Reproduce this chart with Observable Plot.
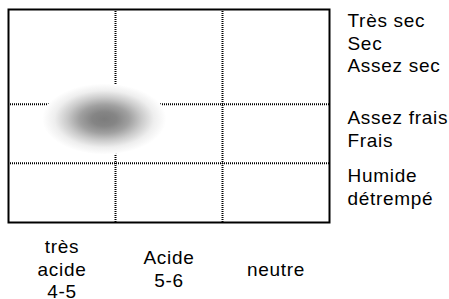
<!DOCTYPE html>
<html><head><meta charset="utf-8">
<script src="https://cdn.jsdelivr.net/npm/d3@7"></script>
<script src="https://cdn.jsdelivr.net/npm/@observablehq/plot@0.6"></script>
<style>html,body{margin:0;padding:0;background:#fff} svg{display:block}</style>
</head><body>
<div id="chart"></div>
<script>
// pH classes (columns) and moisture classes (rows)
const phLabels = ["très\nacide\n4-5", "Acide\n5-6", "neutre"];
const phCenters = [0.5, 1.5, 2.5];
const phBreaks = [1, 2];
const moistureGroups = ["Très sec\nSec\nAssez sec", "Assez frais\nFrais", "Humide\ndétrempé"];
const moistureLevels = [3.04, 1.59, 0.61];
const moistureBreaks = [1, 2];
// ecological optimum of the species (centre and spread)
const optimumPh = [0.9];
const optimumMoisture = [1.74];
const spreadPh = [0.58];
const spreadMoisture = [0.6];

const blob = optimumPh.map((p, i) => ({
  x1: p - spreadPh[i], x2: p + spreadPh[i],
  y1: optimumMoisture[i] - spreadMoisture[i], y2: optimumMoisture[i] + spreadMoisture[i]
}));

const font = "Liberation Sans, Arial, sans-serif";
const svg = Plot.plot({
  width: 449,
  height: 299,
  marginLeft: 8,
  marginRight: 120,
  marginTop: 9,
  marginBottom: 77,
  x: {domain: [0, 3], axis: null},
  y: {domain: [0, 3.6], axis: null},
  style: {background: "#fff", letterSpacing: "0.7px"},
  marks: [
    Plot.ruleX(phBreaks, {stroke: "black", strokeWidth: 2, strokeDasharray: "1,1"}),
    Plot.ruleY(moistureBreaks, {stroke: "black", strokeWidth: 2, strokeDasharray: "1,1"}),
    Plot.rect(blob, {x1: "x1", x2: "x2", y1: "y1", y2: "y2", rx: 1000, ry: 1000, fill: "url(#blobGrad)"}),
    Plot.frame({stroke: "black", strokeWidth: 2}),
    Plot.text(phLabels, {x: (d, i) => phCenters[i], text: d => d, frameAnchor: "bottom", lineAnchor: "middle", dy: 46,
      lineHeight: 1.18, fontSize: 19, fontFamily: font, fill: "black"}),
    Plot.text(moistureGroups, {y: (d, i) => moistureLevels[i], text: d => d, frameAnchor: "right", dx: 18,
      textAnchor: "start", lineAnchor: "middle", lineHeight: 1.18, fontSize: 19, fontFamily: font, fill: "black"})
  ]
});

const defs = d3.select(svg).insert("defs", ":first-child");
const grad = defs.append("radialGradient").attr("id", "blobGrad");
[[0, "#7c7c7c"], [0.2, "#858585"], [0.4, "#a0a0a0"], [0.6, "#cacaca"], [0.8, "#eeeeee"], [1, "#ffffff"]]
  .forEach(([o, c]) => grad.append("stop").attr("offset", o).attr("stop-color", c));

document.getElementById("chart").appendChild(svg);
</script>
</body></html>
